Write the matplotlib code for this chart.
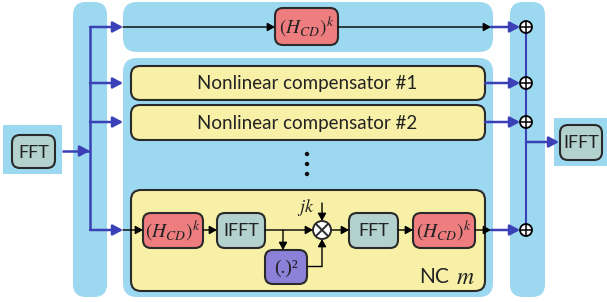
import matplotlib
matplotlib.use('Agg')
import matplotlib.pyplot as plt
from matplotlib.patches import FancyBboxPatch, Rectangle, Circle

plt.rcParams['mathtext.fontset'] = 'stix'

# labels
in_label = 'FFT'
out_label = 'IFFT'
comp_labels = ['Nonlinear compensator #1', 'Nonlinear compensator #2']
hcd_label = r'$(H_{CD})^k$'
chain_labels = ['IFFT', 'FFT']
sq_label = '(.)²'
jk_label = r'$jk$'
ncm_label = 'NC'

LIGHT = '#9cd8ef'
BLUE = '#3b40b6'
YELLOW = '#f7f0a6'
PINK = '#ee7d7f'
GREYT = '#b3d2ce'
PURPLE = '#8c80d8'
EDGE = '#2a2a2a'
TXT = '#222222'
SANS = 'Lato'

W, H = 607, 302
fig = plt.figure(figsize=(W / 100, H / 100), dpi=100)
ax = fig.add_axes([0, 0, 1, 1])
ax.set_xlim(0, W)
ax.set_ylim(H, 0)
ax.axis('off')


def rbox(x0, y0, x1, y1, fc, r, ec='none', lw=0, z=1):
    p = FancyBboxPatch((x0, y0), x1 - x0, y1 - y0,
                       boxstyle='round,pad=0,rounding_size=%g' % r,
                       fc=fc, ec=ec, lw=lw, zorder=z)
    ax.add_patch(p)


def arrow(x0, y0, x1, y1, c, lw, hl=0.6, hw=0.32):
    ax.annotate('', xy=(x1, y1), xytext=(x0, y0),
                arrowprops=dict(arrowstyle='-|>,head_length=%g,head_width=%g' % (hl, hw),
                                color=c, lw=lw, shrinkA=0, shrinkB=0), zorder=6)


def line(xs, ys, c, lw, z=5):
    ax.plot(xs, ys, color=c, lw=lw, solid_capstyle='butt', zorder=z)


def block(x0, y0, x1, y1, fc, label, kind='sans', fs=13):
    rbox(x0, y0, x1, y1, fc, 8, ec=EDGE, lw=1.5, z=4)
    cx, cy = (x0 + x1) / 2, (y0 + y1) / 2
    if kind == 'math':
        ax.text(cx, cy, label, ha='center', va='center', fontsize=fs, color=TXT, zorder=7)
    elif kind == 'serif':
        ax.text(cx, cy + 1, label, ha='center', va='center', fontsize=fs, color=TXT,
                family='Liberation Serif', zorder=7)
    else:
        ax.text(cx, cy + 1, label, ha='center', va='center', fontsize=fs, color=TXT,
                family=SANS, zorder=7)


# backgrounds
ax.add_patch(Rectangle((3, 125), 59, 49, fc=LIGHT, ec='none', zorder=1))
ax.add_patch(Rectangle((554, 118), 53, 48, fc=LIGHT, ec='none', zorder=1))
rbox(73, 2, 107, 297, LIGHT, 13)
rbox(510, 2, 545, 297, LIGHT, 13)
rbox(123, 2, 493, 52, LIGHT, 14)
rbox(123, 58, 493, 297, LIGHT, 14)

# input / output blocks
block(12, 135, 55, 168, GREYT, in_label, fs=13)
block(560, 125, 602, 160, GREYT, out_label, fs=13)

# compensator bars
for (y0, y1), lab in zip([(66, 100), (105, 140)], comp_labels):
    rbox(131, y0, 485, y1, YELLOW, 9, ec=EDGE, lw=1.5, z=3)
    ax.text(307, (y0 + y1) / 2 + 1, lab, ha='center', va='center', fontsize=13.5,
            color=TXT, family=SANS, zorder=7)

# dots
for yd in [154, 164, 174]:
    ax.add_patch(Circle((307, yd), 2.2, fc='#111111', ec='none', zorder=5))

# NC m box
rbox(131, 190, 485, 291, YELLOW, 10, ec=EDGE, lw=1.5, z=3)
ax.text(419, 277, ncm_label, ha='left', va='center', fontsize=15, color=TXT,
        family=SANS, zorder=7)
ax.text(456, 277, r'$m$', ha='left', va='center', fontsize=17, color=TXT, zorder=7)

# top branch
block(275, 8, 338, 45, PINK, hcd_label, kind='math', fs=14)

# NC m chain
block(143, 213, 203, 248, PINK, hcd_label, kind='math', fs=14)
block(217, 213, 265, 248, GREYT, chain_labels[0], fs=13)
block(265, 250, 307, 284, PURPLE, sq_label, kind='serif', fs=14)
block(349, 213, 398, 248, GREYT, chain_labels[1], fs=13)
block(413, 213, 475, 248, PINK, hcd_label, kind='math', fs=14)

# left distribution
line([62, 90], [151, 151], BLUE, 1.8)
arrow(83, 151, 90, 151, BLUE, 1.8)
line([90, 90], [27, 230], BLUE, 1.8)
for yb in [27, 83, 122, 230]:
    arrow(90, yb, 123, yb, BLUE, 1.8)

# top path
arrow(123, 27, 275, 27, 'black', 1.0, 0.45, 0.25)
arrow(338, 27, 491, 27, 'black', 1.0, 0.45, 0.25)
arrow(491, 27, 520, 27, BLUE, 1.8)

# compensator outputs
arrow(485, 83, 520, 83, BLUE, 1.8)
arrow(485, 122, 520, 122, BLUE, 1.8)

# NC m internals
arrow(123, 230, 143, 230, 'black', 1.0, 0.45, 0.25)
arrow(203, 230, 217, 230, 'black', 1.0, 0.45, 0.25)
arrow(265, 230, 313, 230, 'black', 1.0, 0.45, 0.25)
arrow(283, 230, 283, 250, 'black', 1.0, 0.45, 0.25)
line([307, 322], [266, 266], 'black', 1.0)
arrow(322, 266, 322, 239, 'black', 1.0, 0.45, 0.25)
arrow(322, 203, 322, 221, 'black', 1.0, 0.45, 0.25)
ax.text(315, 207, jk_label, ha='right', va='center', fontsize=13, color=TXT, zorder=7)
arrow(331, 230, 349, 230, 'black', 1.0, 0.45, 0.25)
arrow(398, 230, 413, 230, 'black', 1.0, 0.45, 0.25)
arrow(475, 230, 491, 230, 'black', 1.0, 0.45, 0.25)
arrow(491, 230, 520, 230, BLUE, 1.8)

# multiplier
ax.add_patch(Circle((322, 230), 9, fc='white', ec=EDGE, lw=1.4, zorder=7))
d = 9 * 0.707
line([322 - d, 322 + d], [230 - d, 230 + d], EDGE, 1.4, z=8)
line([322 - d, 322 + d], [230 + d, 230 - d], EDGE, 1.4, z=8)

# output summation
line([526, 526], [27, 230], BLUE, 1.5)
arrow(526, 142, 559, 142, BLUE, 1.8)
for ys in [27, 83, 122, 230]:
    ax.add_patch(Circle((526, ys), 6, fc='white', ec='black', lw=1.3, zorder=7))
    line([520, 532], [ys, ys], 'black', 1.1, z=8)
    line([526, 526], [ys - 6, ys + 6], 'black', 1.1, z=8)

fig.savefig('out.png', dpi=100)
